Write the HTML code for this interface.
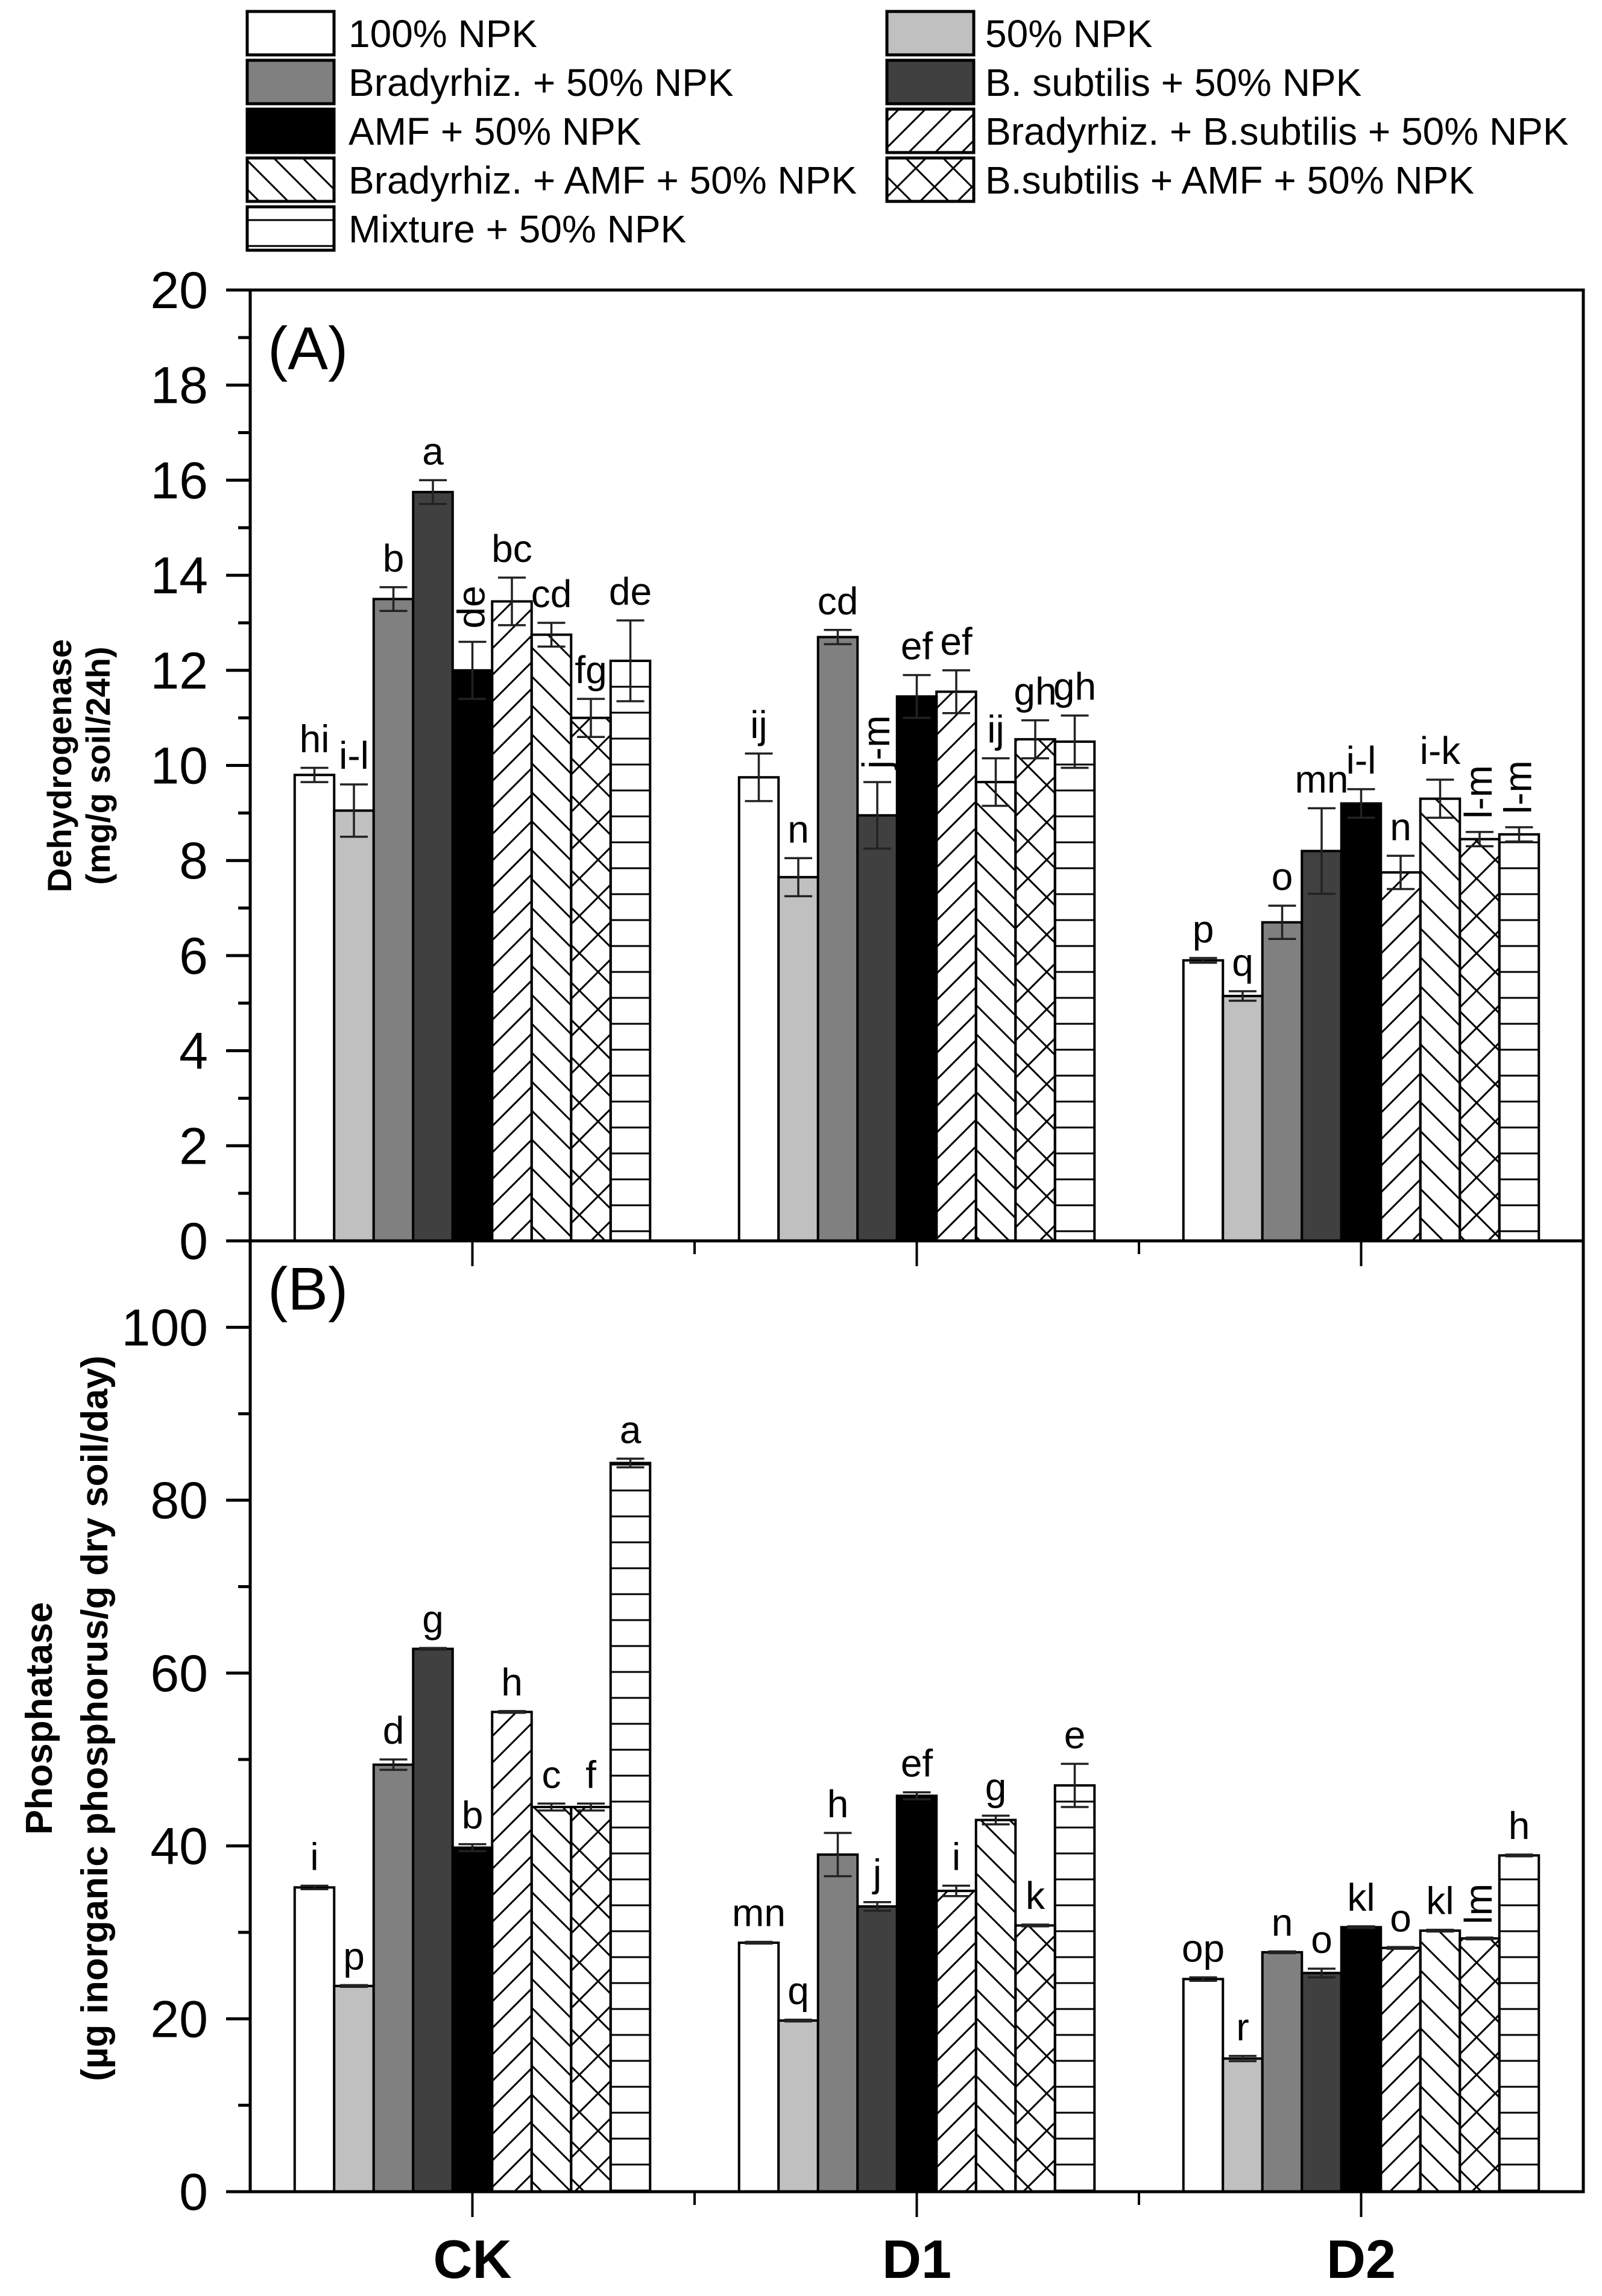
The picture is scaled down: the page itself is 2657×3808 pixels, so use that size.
<!DOCTYPE html>
<html><head><meta charset="utf-8"><style>
html,body{margin:0;padding:0;background:#fff;}
svg{display:block;}
text{font-family:"Liberation Sans",Arial,sans-serif;}
</style></head><body>
<svg id="chart" width="2657" height="3808" viewBox="0 0 2657 3808" xmlns="http://www.w3.org/2000/svg">
<defs>
<pattern id="pFwd" patternUnits="userSpaceOnUse" width="44" height="44"><path d="M-11,11 L11,-11 M0,44 L44,0 M33,55 L55,33" stroke="#000" stroke-width="3"/></pattern>
<pattern id="pBack" patternUnits="userSpaceOnUse" width="48" height="48"><path d="M-12,-12 L60,60 M-12,36 L12,60 M36,-12 L60,12" stroke="#000" stroke-width="3"/></pattern>
<pattern id="pCross" patternUnits="userSpaceOnUse" width="62" height="62"><path d="M0,0 L62,62 M62,0 L0,62" stroke="#000" stroke-width="3"/></pattern>
<pattern id="pHoriz" patternUnits="userSpaceOnUse" width="40" height="43"><path d="M0,21 L40,21" stroke="#000" stroke-width="3"/></pattern>
</defs>
<g id="legend"></g>
<g id="panelA"></g>
<g id="panelB"></g>
</svg>
<script>
const groups = ["CK","D1","D2"];
const treatments = ["100% NPK","50% NPK","Bradyrhiz. + 50% NPK","B. subtilis + 50% NPK","AMF + 50% NPK","Bradyrhiz. + B.subtilis + 50% NPK","Bradyrhiz. + AMF + 50% NPK","B.subtilis + AMF + 50% NPK","Mixture + 50% NPK"];
const dehydCK = [9.8, 9.05, 13.5, 15.75, 12.0, 13.45, 12.75, 11.0, 12.2];
const dehydD1 = [9.75, 7.65, 12.7, 8.95, 11.45, 11.55, 9.65, 10.55, 10.5];
const dehydD2 = [5.9, 5.15, 6.7, 8.2, 9.2, 7.75, 9.3, 8.45, 8.55];
const dehydErrCK = [0.15, 0.55, 0.25, 0.25, 0.6, 0.5, 0.25, 0.4, 0.85];
const dehydErrD1 = [0.5, 0.4, 0.15, 0.7, 0.45, 0.45, 0.5, 0.4, 0.55];
const dehydErrD2 = [0.05, 0.1, 0.35, 0.9, 0.3, 0.35, 0.4, 0.15, 0.15];
const dehydLabCK = ["hi","i-l","b","a","de","bc","cd","fg","de"];
const dehydLabD1 = ["ij","n","cd","j-m","ef","ef","ij","gh","gh"];
const dehydLabD2 = ["p","q","o","mn","i-l","n","i-k","l-m","l-m"];
const phosCK = [35.2, 23.8, 49.4, 62.8, 39.8, 55.5, 44.5, 44.5, 84.3];
const phosD1 = [28.8, 19.8, 39.0, 33.0, 45.8, 34.8, 43.0, 30.8, 47.0];
const phosD2 = [24.6, 15.4, 27.7, 25.3, 30.6, 28.2, 30.2, 29.3, 38.9];
const phosErrCK = [0.2, 0.1, 0.6, 0.1, 0.4, 0.1, 0.4, 0.4, 0.5];
const phosErrD1 = [0.1, 0.1, 2.5, 0.5, 0.4, 0.6, 0.5, 0.1, 2.5];
const phosErrD2 = [0.2, 0.3, 0.1, 0.5, 0.1, 0.1, 0.1, 0.1, 0.1];
const phosLabCK = ["i","p","d","g","b","h","c","f","a"];
const phosLabD1 = ["mn","q","h","j","ef","i","g","k","e"];
const phosLabD2 = ["op","r","n","o","kl","o","kl","lm","h"];
const ticksA = [0,2,4,6,8,10,12,14,16,18,20];
const ticksB = [0,20,40,60,80,100];
const rotatedLabels = ["de|0|4","j-m|1|3","l-m|2|7","l-m|2|8","lm|2|7"];

const NS="http://www.w3.org/2000/svg";
function mk(parent, tag, attrs, txt){const e=document.createElementNS(NS,tag);for(const k in attrs)e.setAttribute(k,attrs[k]);if(txt!==undefined)e.textContent=txt;parent.appendChild(e);return e;}
const fills=["#ffffff","#c0c0c0","#808080","#404040","#000000","url(#pFwd)","url(#pBack)","url(#pCross)","url(#pHoriz)"];

const X0=415,X1=2626;
const groupW=(X1-X0)/groups.length;
const barW=65.5;
function xGroup(gi){return X0+(gi+0.5)*groupW;}
function xBar(gi,bi){return xGroup(gi)+(bi-4.5)*barW;}
const A={top:481,bottom:2058,min:0,max:20};
const B={top:2058,bottom:3635,min:0,max:110};
function yA(v){return A.bottom-(v-A.min)/(A.max-A.min)*(A.bottom-A.top);}
function yB(v){return B.bottom-(v-B.min)/(B.max-B.min)*(B.bottom-B.top);}

// Legend
const leg=document.getElementById('legend');
const legPos=[[0,0],[1,0],[0,1],[1,1],[0,2],[1,2],[0,4],[1,3],[0,3]];
const legOrder=[0,1,2,3,4,5,6,7,8];
const legCol=[[0,0],[1,0],[0,1],[1,1],[0,2],[1,2],[0,3],[1,3],[0,4]];
legOrder.forEach((ti,k)=>{
  const c=legCol[k];
  const bx=c[0]===0?410:1471, tx=c[0]===0?578:1634;
  const by=19+c[1]*81;
  const g=mk(leg,'g',{});
  
  
  mk(g,'rect',{x:bx,y:by,width:144,height:72,fill:fills[ti],stroke:'#000','stroke-width':5});
  mk(g,'text',{x:tx,y:by+59,'font-size':64,fill:'#000'},treatments[ti]);
});

function drawPanel(panel, yf, ax, ticks, minorStep, data, errs, labs, isA){
  const root=document.getElementById(panel);
  // bars
  for(let gi=0;gi<groups.length;gi++){
    for(let bi=0;bi<9;bi++){
      const v=data[gi][bi], e=errs[gi][bi];
      const x=xBar(gi,bi), y=yf(v);
      const r=mk(root,'rect',{x:x,y:y,width:barW,height:ax.bottom-y,fill:fills[bi],stroke:'#000','stroke-width':4});
      
      
      const cx=x+barW/2, yt=yf(v+e), yb=yf(v-e);
      const eb=mk(root,'path',{d:`M${cx},${yt} L${cx},${yb} M${cx-23},${yt} L${cx+23},${yt} M${cx-23},${yb} L${cx+23},${yb}`,stroke:'#222','stroke-width':3.5,fill:'none'});
      
      
      const lab=labs[gi][bi];
      const rot=rotatedLabels.indexOf(lab+'|'+gi+'|'+bi)>=0;
      let t;
      if(rot){
        t=mk(root,'text',{x:0,y:0,'font-size':64,'text-anchor':'start',transform:`translate(${cx+20},${Math.min(yt,y)-22}) rotate(-90)`},lab);
      } else {
        t=mk(root,'text',{x:cx,y:Math.min(yt,y)-26,'font-size':64,'text-anchor':'middle'},lab);
      }
      
      
    }
  }
  // left axis ticks
  const maxV=ax.max;
  for(let v=0; v<=maxV+1e-9; v+=minorStep){
    const y=yf(v);
    const major=ticks.indexOf(Math.round(v*100)/100)>=0;
    mk(root,'line',{x1:X0-(major?40:20),x2:X0,y1:y,y2:y,stroke:'#000','stroke-width':5});
  }
  ticks.forEach(v=>{
    const t=mk(root,'text',{x:345,y:yf(v)+30,'font-size':86,'text-anchor':'end'},String(v));
    
    
  });
}
drawPanel('panelA',yA,A,ticksA,1,[dehydCK,dehydD1,dehydD2],[dehydErrCK,dehydErrD1,dehydErrD2],[dehydLabCK,dehydLabD1,dehydLabD2],true);
drawPanel('panelB',yB,B,ticksB,10,[phosCK,phosD1,phosD2],[phosErrCK,phosErrD1,phosErrD2],[phosLabCK,phosLabD1,phosLabD2],false);

// frames
const pa=document.getElementById('panelA');
mk(pa,'rect',{x:X0,y:A.top,width:X1-X0,height:A.bottom-A.top,fill:'none',stroke:'#000','stroke-width':5});
const pb=document.getElementById('panelB');
mk(pb,'path',{d:`M${X0},${B.top} L${X0},${B.bottom} L${X1},${B.bottom} L${X1},${B.top}`,fill:'none',stroke:'#000','stroke-width':5});
// ticks on shared axis and bottom axis
for(let k=0;k<=groups.length;k++){
  const xm=X0+k*groupW;
  if(k>0&&k<groups.length){mk(pb,'line',{x1:xm,x2:xm,y1:B.bottom,y2:B.bottom+22,stroke:'#000','stroke-width':4});
    mk(pb,'line',{x1:xm,x2:xm,y1:A.bottom,y2:A.bottom+22,stroke:'#000','stroke-width':4});}
}
groups.forEach((g,gi)=>{
  const x=xGroup(gi);
  mk(pb,'line',{x1:x,x2:x,y1:B.bottom,y2:B.bottom+42,stroke:'#000','stroke-width':4});
  mk(pb,'line',{x1:x,x2:x,y1:A.bottom,y2:A.bottom+42,stroke:'#000','stroke-width':4});
  const t=mk(pb,'text',{x:x,y:3778,'font-size':90,'font-weight':'bold','text-anchor':'middle'},g);
  
  
});
// panel letters
let t=mk(pa,'text',{x:444,y:612,'font-size':100},'(A)');

t=mk(pb,'text',{x:444,y:2172,'font-size':100},'(B)');

// axis titles
const svg=document.getElementById('chart');
t=mk(svg,'text',{'font-size':56,'font-weight':'bold','text-anchor':'middle',transform:'translate(118,1270) rotate(-90)'},'Dehydrogenase');

t=mk(svg,'text',{'font-size':56,'font-weight':'bold','text-anchor':'middle',transform:'translate(182,1270) rotate(-90)'},'(mg/g soil/24h)');

t=mk(svg,'text',{'font-size':62,'font-weight':'bold','text-anchor':'middle',transform:'translate(86,2850) rotate(-90)'},'Phosphatase');

t=mk(svg,'text',{'font-size':62,'font-weight':'bold','text-anchor':'middle',transform:'translate(178,2850) rotate(-90)'},'(µg inorganic phosphorus/g dry soil/day)');

</script>
</body></html>
